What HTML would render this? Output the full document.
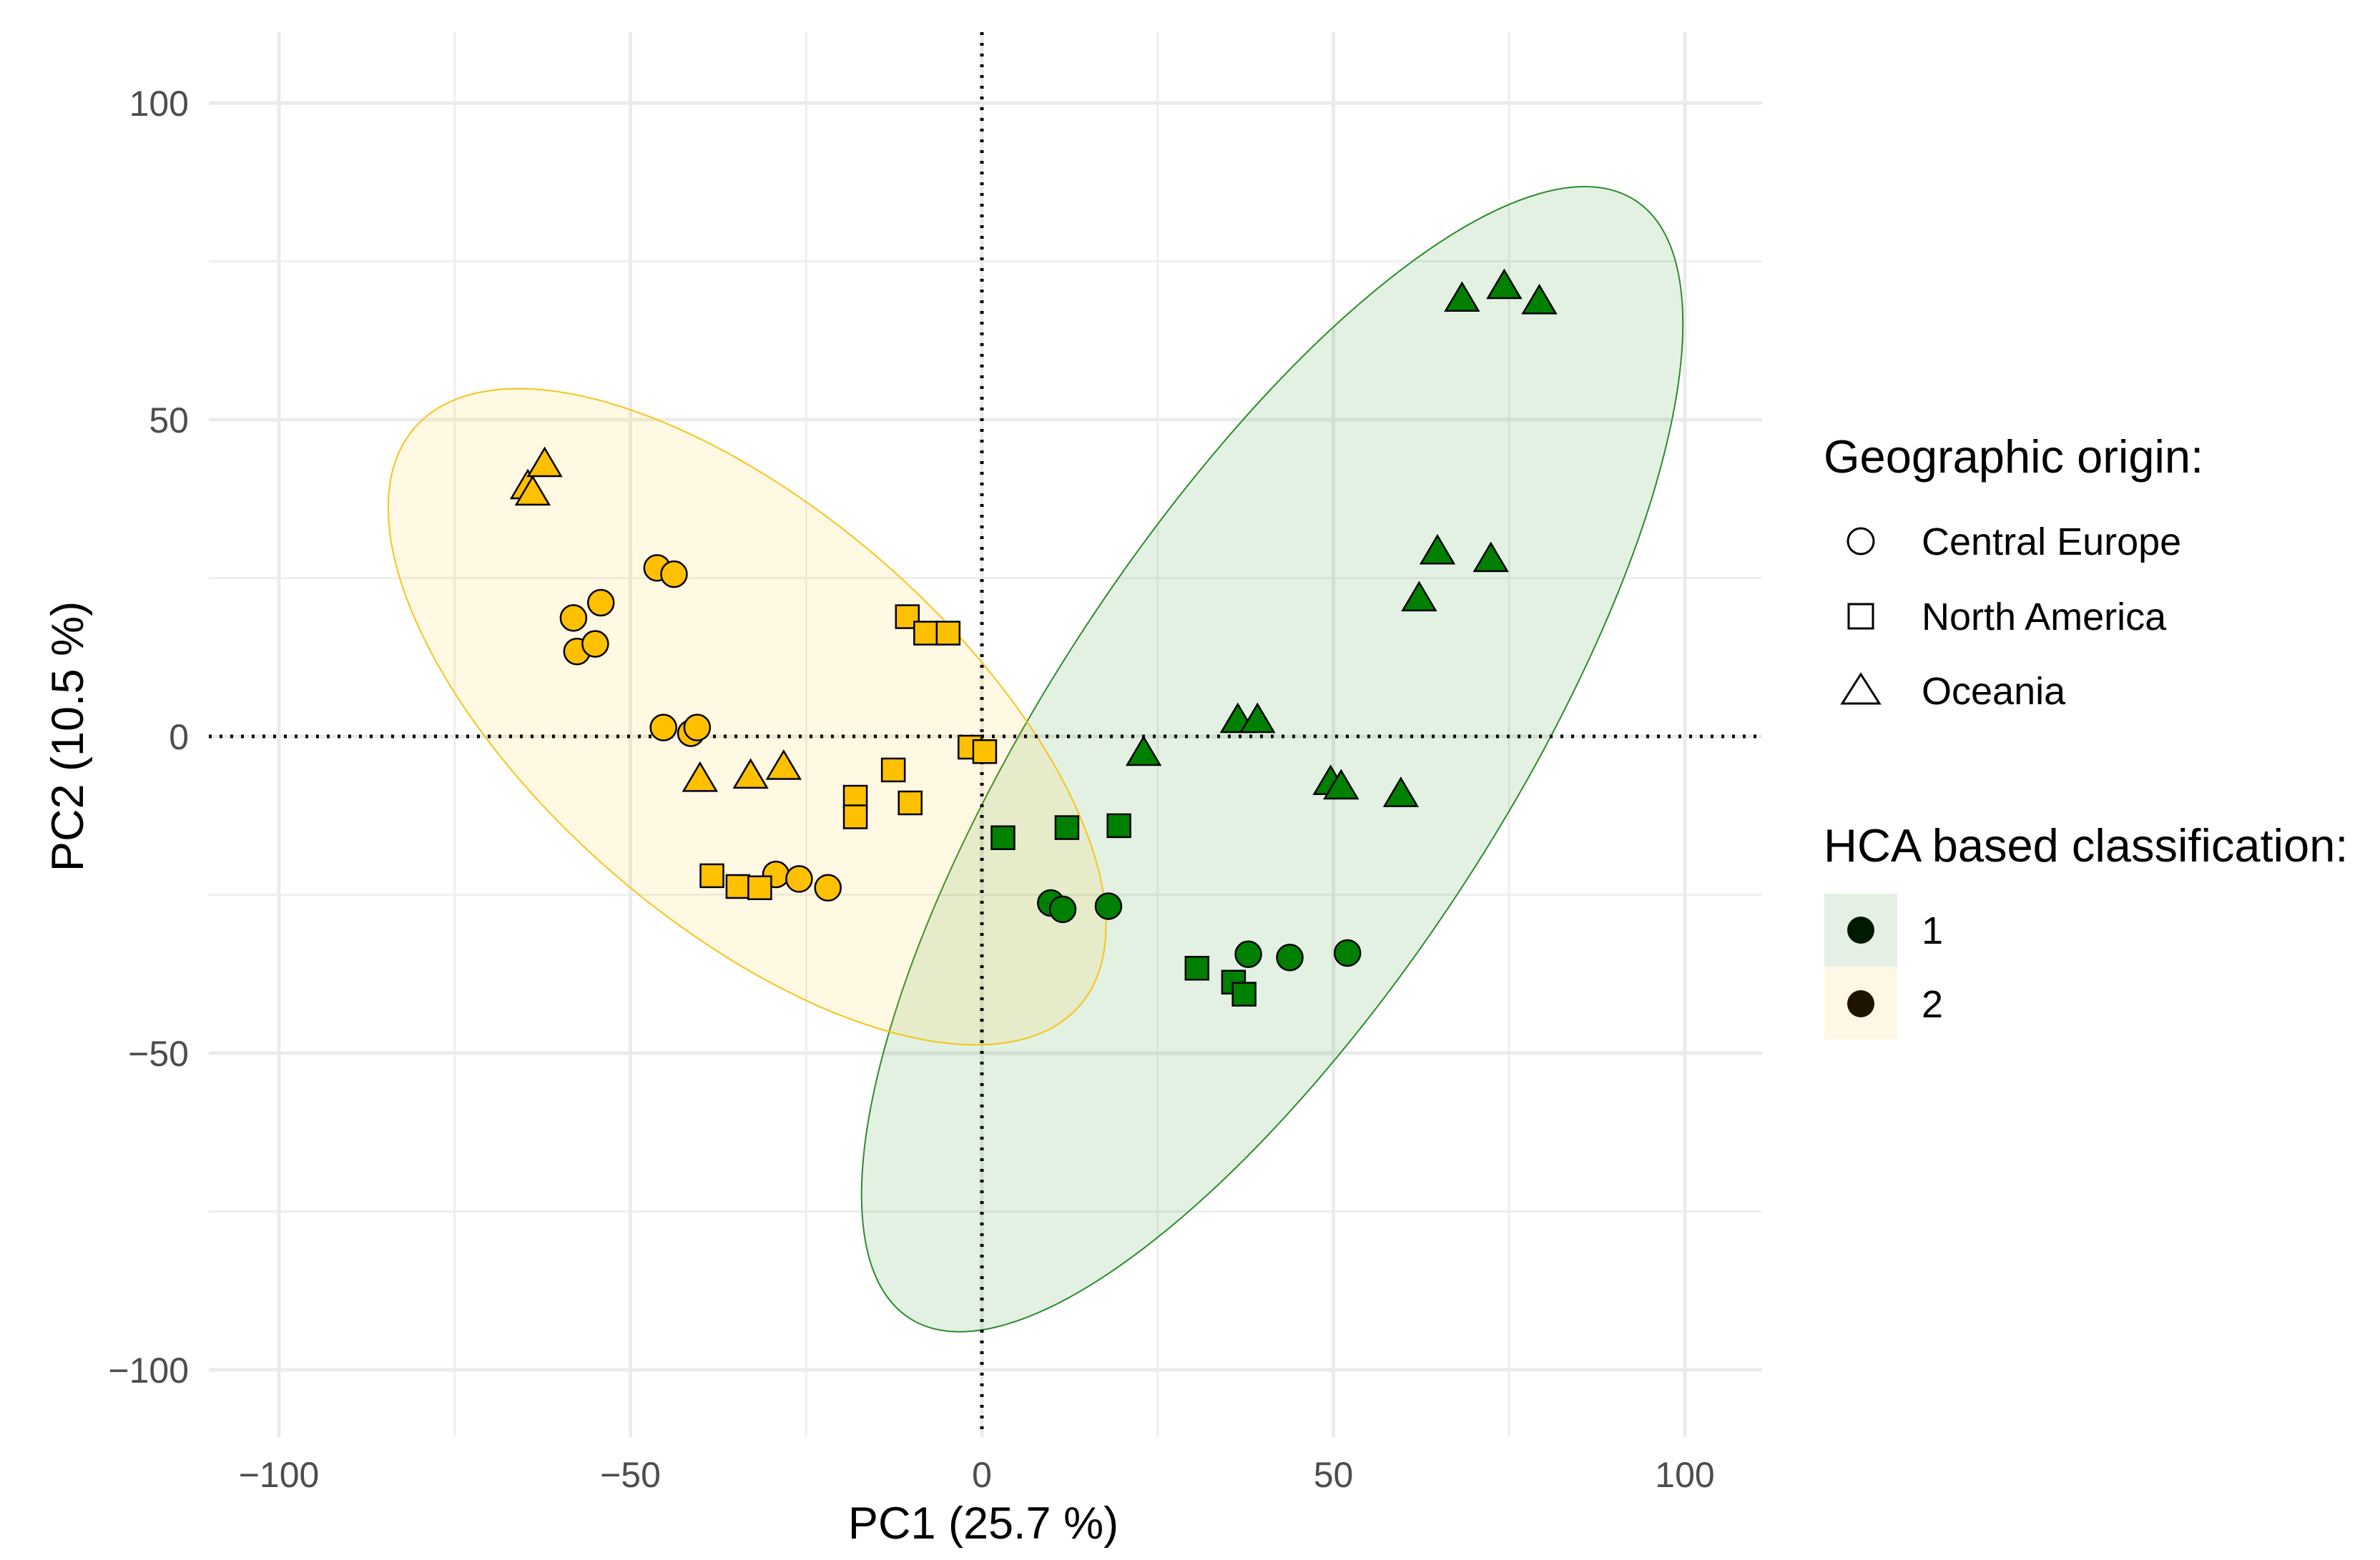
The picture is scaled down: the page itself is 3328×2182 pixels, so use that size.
<!DOCTYPE html>
<html><head><meta charset="utf-8"><style>
html,body{margin:0;padding:0;background:#fff;}
svg{display:block;font-family:"Liberation Sans",Arial,sans-serif;}
</style></head><body>
<svg id="chart" width="3328" height="2182" viewBox="0 0 3328 2182" xmlns="http://www.w3.org/2000/svg">
<g id="grid"></g>
<g id="ellipses"></g>
<g id="refs"></g>
<g id="points"></g>
<g id="axes"></g>
<text x="1375" y="2152" font-size="63" text-anchor="middle" fill="#000">PC1 (25.7 %)</text>
<text transform="translate(116,1030) rotate(-90)" font-size="63" text-anchor="middle" fill="#000">PC2 (10.5 %)</text>
<g transform="translate(-13,0)">
<text x="2563" y="661" font-size="65" fill="#000">Geographic origin:</text>
<circle cx="2615" cy="757" r="18" fill="none" stroke="#000" stroke-width="3"/>
<text x="2700" y="776" font-size="54">Central Europe</text>
<rect x="2598" y="845" width="34" height="34" fill="none" stroke="#000" stroke-width="3"/>
<text x="2700" y="881" font-size="54">North America</text>
<polygon points="2615,943 2641,984 2589,984" fill="none" stroke="#000" stroke-width="3"/>
<text x="2700" y="985" font-size="54">Oceania</text>
<text x="2563" y="1205" font-size="65" fill="#000">HCA based classification:</text>
<rect x="2564" y="1250" width="102" height="102" fill="#e5f0e5"/>
<rect x="2564" y="1352" width="102" height="102" fill="#fff7e6"/>
<circle cx="2615" cy="1301" r="19" fill="#001a00"/>
<circle cx="2615" cy="1404" r="19" fill="#1f1400"/>
<text x="2700" y="1320" font-size="54">1</text>
<text x="2700" y="1423" font-size="54">2</text>
</g>
</svg>
<script>
// ---- data ----
const xTicks = [-100, -50, 0, 50, 100];
const yTicks = [-100, -50, 0, 50, 100];
const minorTicks = [-75, -25, 25, 75];
// cluster 2 (yellow)
const c2TriX = [-64.6, -62.2, -63.9, -40.1, -32.9, -28.2];
const c2TriY = [39.5, 43, 38.5, -6.7, -6.2, -4.8];
const c2CirX = [-46.2, -43.8, -58.1, -54.2, -57.6, -55, -45.3, -41.4, -40.5, -29.3, -26, -21.9];
const c2CirY = [26.6, 25.6, 18.7, 21.1, 13.4, 14.6, 1.4, 0.5, 1.4, -21.8, -22.5, -23.9];
const c2SqX = [-10.6, -8, -4.8, -1.7, 0.4, -12.6, -18, -18, -10.2, -38.4, -34.7, -31.6];
const c2SqY = [18.9, 16.3, 16.3, -1.7, -2.4, -5.3, -9.6, -12.7, -10.5, -22, -23.7, -23.9];
// cluster 1 (green)
const c1TriX = [68.3, 74.3, 79.3, 64.8, 72.4, 62.2, 23, 36.4, 39.2, 49.6, 51.1, 59.6];
const c1TriY = [69.1, 71.1, 68.7, 29.2, 28, 21.8, -2.6, 2.6, 2.6, -7.2, -7.9, -9.1];
const c1CirX = [9.8, 11.5, 18, 37.9, 43.8, 52];
const c1CirY = [-26.3, -27.3, -26.8, -34.4, -34.9, -34.2];
const c1SqX = [3, 12.1, 19.5, 30.6, 35.8, 37.3];
const c1SqY = [-16, -14.4, -14.1, -36.6, -38.8, -40.7];
// ellipse centres (data units)
const ellCenterX = [41.3, -33.4];
const ellCenterY = [-3.6, 3.1];

// ---- scales ----
const X0 = 1373, XS = 9.83, Y0 = 1030, YS = 8.86;
const PL = 292, PR = 2464, PT = 45, PB = 2010;
const sx = v => X0 + v * XS;
const sy = v => Y0 - v * YS;
const NS = "http://www.w3.org/2000/svg";
function mk(tag, attrs, parent) {
  const e = document.createElementNS(NS, tag);
  for (const k in attrs) e.setAttribute(k, attrs[k]);
  parent.appendChild(e);
  return e;
}
const grid = document.getElementById('grid');
const axes = document.getElementById('axes');
minorTicks.forEach(t => {
  let l = mk('line', {x1: sx(t), x2: sx(t), y1: PT, y2: PB, stroke: '#efefef', 'stroke-width': 3}, grid);
  
  
  l = mk('line', {x1: PL, x2: PR, y1: sy(t), y2: sy(t), stroke: '#efefef', 'stroke-width': 3}, grid);
  
  
});
xTicks.forEach(t => {
  const l = mk('line', {x1: sx(t), x2: sx(t), y1: PT, y2: PB, stroke: '#ebebeb', 'stroke-width': 5}, grid);
  
  
  const tx = mk('text', {x: sx(t), y: 2080, 'font-size': 50, 'text-anchor': 'middle', fill: '#4d4d4d'}, axes);
  tx.textContent = t === 0 ? '0' : String(t).replace('-', '\u2212');
  
  
});
yTicks.forEach(t => {
  const l = mk('line', {x1: PL, x2: PR, y1: sy(t), y2: sy(t), stroke: '#ebebeb', 'stroke-width': 5}, grid);
  
  
  const tx = mk('text', {x: 264, y: sy(t) + 18, 'font-size': 50, 'text-anchor': 'end', fill: '#4d4d4d'}, axes);
  tx.textContent = t === 0 ? '0' : String(t).replace('-', '\u2212');
  
  
});
// ellipses
const ell = document.getElementById('ellipses');
const ellRx = [932, 616], ellRy = [320, 288], ellRot = [-57, 41];
const ellFill = ['rgba(0,128,0,0.11)', 'rgba(255,192,0,0.11)'];
const ellStroke = ['#2e8b2e', '#f5c518'];
[0, 1].forEach(i => {
  const e = mk('ellipse', {cx: 0, cy: 0, rx: ellRx[i], ry: ellRy[i], fill: ellFill[i], stroke: ellStroke[i], 'stroke-width': 2,
    transform: `translate(${sx(ellCenterX[i])},${sy(ellCenterY[i])}) rotate(${ellRot[i]})`}, ell);
  
  
});
// reference lines
const refs = document.getElementById('refs');
let r = mk('line', {x1: sx(0), x2: sx(0), y1: PT, y2: PB, stroke: '#000', 'stroke-width': 5, 'stroke-dasharray': '4 11'}, refs);


r = mk('line', {x1: PL, x2: PR, y1: sy(0), y2: sy(0), stroke: '#000', 'stroke-width': 5, 'stroke-dasharray': '4 11'}, refs);


// points
const pts = document.getElementById('points');
const GREEN = '#008000', YELLOW = '#ffc000';
function drawCircles(xs, ys, col, name) {
  xs.forEach((x, i) => {
    const c = mk('circle', {cx: sx(x), cy: sy(ys[i]), r: 18, fill: col, stroke: '#000', 'stroke-width': 2.5}, pts);
    
    
  });
}
function drawSquares(xs, ys, col, name) {
  xs.forEach((x, i) => {
    const c = mk('rect', {x: sx(x) - 16, y: sy(ys[i]) - 16, width: 32, height: 32, fill: col, stroke: '#000', 'stroke-width': 2.5}, pts);
    
    
  });
}
function drawTris(xs, ys, col, name) {
  xs.forEach((x, i) => {
    const cx = sx(x), cy = sy(ys[i]);
    const c = mk('polygon', {points: `${cx},${cy - 22} ${cx + 23},${cy + 17} ${cx - 23},${cy + 17}`, fill: col, stroke: '#000', 'stroke-width': 2.5}, pts);
    
    
  });
}
drawCircles(c2CirX, c2CirY, YELLOW, 'point-c2-central-europe');
drawSquares(c2SqX, c2SqY, YELLOW, 'point-c2-north-america');
drawTris(c2TriX, c2TriY, YELLOW, 'point-c2-oceania');
drawCircles(c1CirX, c1CirY, GREEN, 'point-c1-central-europe');
drawSquares(c1SqX, c1SqY, GREEN, 'point-c1-north-america');
drawTris(c1TriX, c1TriY, GREEN, 'point-c1-oceania');
</script>
</body></html>
